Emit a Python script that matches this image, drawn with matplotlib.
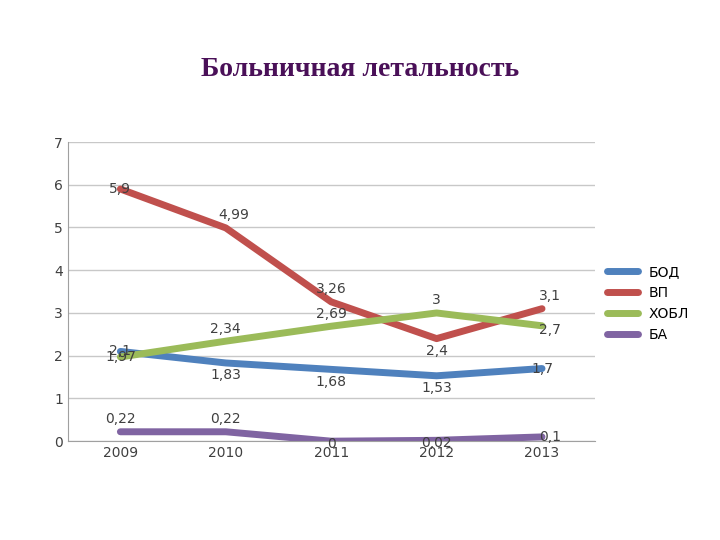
import matplotlib.pyplot as plt

years = ['2009', '2010', '2011', '2012', '2013']
bod = [2.1, 1.83, 1.68, 1.53, 1.7]
vp = [5.9, 4.99, 3.26, 2.4, 3.1]
hobl = [1.97, 2.34, 2.69, 3, 2.7]
ba = [0.22, 0.22, 0, 0.02, 0.1]
names = ['БОД', 'ВП', 'ХОБЛ', 'БА']
colors = ['#4F81BD', '#C0504D', '#9BBB59', '#8064A2']

fig = plt.figure(figsize=(7.2, 5.4), dpi=100)
ax = fig.add_axes([0.094, 0.183, 0.732, 0.554])
x = range(len(years))
series = [bod, vp, hobl, ba]
for s, n, c in zip(series, names, colors):
    ax.plot(x, s, color=c, lw=5, label=n, solid_capstyle='round')

def fmt(v):
    return ('%g' % v).replace('.', ',')

# label offsets (points) per series
offs = {
    0: [(0, 0), (0, -9), (0, -9), (0, -9), (0, 0)],
    1: [(0, 0), (6, 9), (0, 9), (0, -9), (6, 9)],
    2: [(0, 0), (0, 9), (0, 9), (0, 9), (6, -3)],
    3: [(0, 9), (0, 9), (0, -2), (0, -2), (6, 0)],
}
for i, s in enumerate(series):
    for j, v in enumerate(s):
        ax.annotate(fmt(v), (j, v), xytext=offs[i][j], textcoords='offset points',
                    ha='center', va='center', fontsize=10, color='#404040')

ax.set_xlim(-0.5, 4.5)
ax.set_ylim(0, 7)
ax.set_xticks(list(x))
ax.set_xticklabels(years)
ax.set_yticks(range(8))
ax.yaxis.grid(True, color='#c8c8c8', lw=1)
ax.set_axisbelow(True)
for sp in ['top', 'right']:
    ax.spines[sp].set_visible(False)
ax.spines['left'].set_color('#a0a0a0')
ax.spines['bottom'].set_color('#a0a0a0')
ax.tick_params(length=0, labelsize=10, colors='#404040')
ax.legend(loc='center left', bbox_to_anchor=(1.0, 0.46), frameon=False,
          fontsize=10, handlelength=2.2)
fig.text(0.5, 0.872, 'Больничная летальность', ha='center', va='center',
         fontsize=20, fontweight='bold', color='#4a1058', family='Liberation Serif')
fig.savefig('out.png')
